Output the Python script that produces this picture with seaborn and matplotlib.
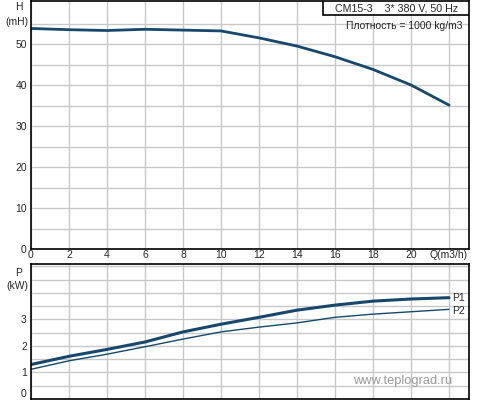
import matplotlib
matplotlib.use("Agg")
import matplotlib.pyplot as plt
import matplotlib.patches as patches
import seaborn as sns
import pandas as pd

# data
q = [0, 2, 4, 6, 8, 10, 12, 14, 16, 18, 20, 22]
head = [53.8, 53.5, 53.3, 53.6, 53.4, 53.2, 51.5, 49.5, 46.9, 43.8, 40.0, 35.1]
p1 = [1.30, 1.61, 1.87, 2.15, 2.53, 2.82, 3.08, 3.35, 3.54, 3.69, 3.77, 3.82]
p2 = [1.12, 1.44, 1.69, 1.97, 2.26, 2.53, 2.71, 2.87, 3.08, 3.20, 3.29, 3.38]
x_ticks = [0, 2, 4, 6, 8, 10, 12, 14, 16, 18, 20, 22]
x_labels = ["0", "2", "4", "6", "8", "10", "12", "14", "16", "18", "20", "Q(m3/h)"]

sns.set_style("white")
plt.rcParams['font.family'] = ['Liberation Sans', 'DejaVu Sans']
plt.rcParams['font.size'] = 7

line_color = "#17486c"
grid_color = "#c8c8c8"

df = pd.DataFrame({"Q": q, "H": head, "P1": p1, "P2": p2})

fig = plt.figure(figsize=(5, 4), dpi=100)
ax1 = fig.add_axes([0.062, 0.3775, 0.876, 0.62])
ax2 = fig.add_axes([0.062, 0.0025, 0.876, 0.3375])


def style_axes(ax, yticks_major, ymax, yminor):
    ax.set_xlim(0, 23.05)
    ax.set_ylim(0, ymax)
    ax.set_xticks(x_ticks)
    ax.set_yticks(yminor, minor=True)
    ax.set_yticks(yticks_major)
    ax.grid(True, which="both", color=grid_color, linewidth=1)
    ax.set_axisbelow(True)
    for s in ax.spines.values():
        s.set_color("black")
        s.set_linewidth(1.2)
    ax.tick_params(length=0, pad=3, labelsize=7.5)
    ax.set_xlabel("")
    ax.set_ylabel("")


# head curve
sns.lineplot(data=df, x="Q", y="H", ax=ax1, color=line_color, linewidth=2)
style_axes(ax1, [0, 10, 20, 30, 40, 50], 60.5, [5, 15, 25, 35, 45, 55])
ax1.set_xticklabels(x_labels)
ax1.tick_params(axis="x", pad=1)
ax1.text(-0.02, 0.975, "H", transform=ax1.transAxes, ha="right", va="center", fontsize=7.5)
ax1.text(-0.005, 0.915, "(mH)", transform=ax1.transAxes, ha="right", va="center", fontsize=7.5)

# title box
ax1.add_patch(patches.Rectangle((0.667, 0.942), 0.333, 0.058, transform=ax1.transAxes,
                                fc="white", ec="black", lw=1.2, zorder=5))
ax1.text(0.8335, 0.971, "CM15-3    3* 380 V, 50 Hz", transform=ax1.transAxes,
         ha="center", va="center", fontsize=7.7, zorder=6)
ax1.text(0.985, 0.9, "Плотность = 1000 kg/m3", transform=ax1.transAxes,
         ha="right", va="center", fontsize=7.5)

# power curves
sns.lineplot(data=df, x="Q", y="P1", ax=ax2, color=line_color, linewidth=2.2)
sns.lineplot(data=df, x="Q", y="P2", ax=ax2, color=line_color, linewidth=1)
style_axes(ax2, [0, 1, 2, 3], 5.09, [0.5, 1.5, 2.5, 3.5, 4, 4.5, 5])
ax2.set_xticklabels([])
ylabels = ax2.get_yticklabels()
ylabels[0].set_va("bottom")
ax2.text(-0.02, 0.935, "P", transform=ax2.transAxes, ha="right", va="center", fontsize=7.5)
ax2.text(-0.005, 0.835, "(kW)", transform=ax2.transAxes, ha="right", va="center", fontsize=7.5)
ax2.text(q[-1] + 0.15, p1[-1], "P1", ha="left", va="center", fontsize=7.5)
ax2.text(q[-1] + 0.15, p2[-1] - 0.05, "P2", ha="left", va="center", fontsize=7.5)
ax2.text(0.962, 0.13, "www.teplograd.ru", transform=ax2.transAxes, ha="right",
         va="center", fontsize=9.3, color="#9a9a9a")

fig.savefig("out.png", dpi=100)
